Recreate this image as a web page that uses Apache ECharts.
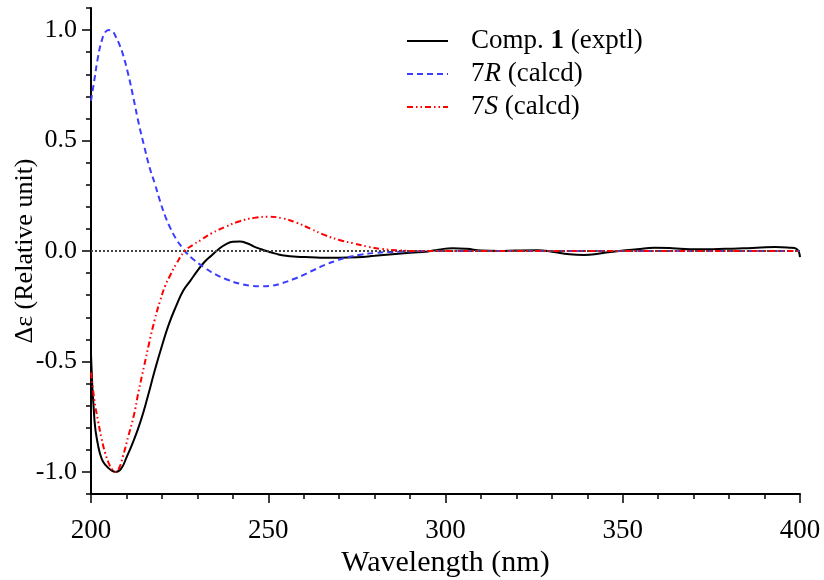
<!DOCTYPE html>
<html>
<head>
<meta charset="utf-8">
<script src="https://cdn.jsdelivr.net/npm/echarts@6/dist/echarts.min.js"></script>
<style>
html,body{margin:0;padding:0;background:#fff;}
#c{width:824px;height:580px;}
</style>
</head>
<body>
<div id="c"></div>
<script>
// Comp. 1 (exptl): [wavelength nm, Δε]
const exptl = [
  [200,-0.47],[201,-0.77],[202,-0.88],[203,-0.94],[204,-0.967],[205.5,-0.99],[207,-1.0],
  [208.5,-0.985],[210,-0.935],[212,-0.86],[214,-0.77],[216,-0.66],[218,-0.54],[220,-0.43],
  [222,-0.33],[224,-0.25],[226,-0.18],[228,-0.135],[230,-0.09],[232,-0.05],[234,-0.02],
  [236,0.008],[238,0.03],[240,0.042],[242,0.043],[244,0.035],[246,0.02],[248,0.008],
  [250,-0.003],[252,-0.012],[255,-0.022],[258,-0.026],[262,-0.028],[266,-0.03],[270,-0.03],
  [275,-0.028],[280,-0.022],[285,-0.015],[290,-0.008],[295,-0.002],[298,0.006],[302,0.013],
  [306,0.01],[310,0.002],[315,0.0],[320,0.002],[326,0.003],[330,-0.003],[335,-0.015],
  [339,-0.018],[344,-0.01],[349,0.0],[354,0.008],[359,0.015],[364,0.013],[369,0.008],
  [374,0.008],[379,0.01],[384,0.012],[389,0.016],[393,0.018],[397,0.015],[399,0.01],[400,-0.028]
];
// 7R (calcd)
const calc7R = [
  [200,0.68],[201,0.78],[202,0.88],[203,0.95],[204,0.99],[205,1.0],[206,0.995],[207,0.97],
  [208,0.935],[209,0.89],[210.5,0.80],[212,0.69],[213.5,0.575],[215,0.475],[216.5,0.38],
  [218,0.305],[219.5,0.225],[221,0.155],[222.5,0.10],[224,0.055],[225.5,0.02],[227,-0.01],
  [229,-0.04],[232,-0.075],[235,-0.105],[238.5,-0.13],[242,-0.148],[245,-0.157],[248,-0.16],
  [251,-0.157],[254,-0.145],[257,-0.128],[260,-0.108],[263,-0.085],[266,-0.063],[269,-0.045],
  [272,-0.03],[276,-0.017],[280,-0.009],[285,-0.004],[290,-0.002],[295,0],[320,0],[350,0],
  [380,0],[400,0]
];
// 7S (calcd)
const calc7S = [
  [200,-0.55],[201,-0.68],[202,-0.77],[203,-0.85],[204,-0.915],[205,-0.96],[206,-0.99],
  [207,-1.0],[208,-0.98],[209,-0.93],[210.5,-0.84],[212,-0.75],[213.5,-0.63],[215,-0.52],
  [216.5,-0.41],[218,-0.31],[219.5,-0.225],[221,-0.155],[222.5,-0.105],[224,-0.06],
  [226.5,0.0],[229,0.03],[231,0.05],[234,0.08],[238,0.11],[242,0.135],[246,0.15],[250,0.155],
  [254,0.148],[258,0.128],[262,0.10],[266,0.072],[270,0.05],[274,0.035],[278,0.02],
  [282,0.009],[287,0.003],[292,0.0],[320,0],[350,0],[380,0],[400,0]
];
const seriesNames = ['Comp. 1 (exptl)', '7R (calcd)', '7S (calcd)'];
const xTickLabels = [200, 250, 300, 350, 400];
const yTickLabels = [-1.0, -0.5, 0.0, 0.5, 1.0];

const FONT = 'Liberation Serif';
const chart = echarts.init(document.getElementById('c'));
const legendFmt = {
  'Comp. 1 (exptl)': '{sp|}{n|Comp. }{b|1}{n| (exptl)}',
  '7R (calcd)': '{sp|}{n|7}{i|R}{n| (calcd)}',
  '7S (calcd)': '{sp|}{n|7}{i|S}{n| (calcd)}'
};
chart.setOption({
  animation: false,
  backgroundColor: '#fff',
  grid: { left: 91, right: 24, top: 8, bottom: 86, containLabel: false, outerBoundsMode: 'none' },
  legend: {
    orient: 'vertical', left: 406, top: 26, itemWidth: 41, itemHeight: 14, itemGap: 3,
    padding: 0,
    data: seriesNames,
    itemStyle: { opacity: 0 },
    formatter: n => legendFmt[n],
    textStyle: {
      fontFamily: FONT, fontSize: 27, color: '#000', lineHeight: 30,
      rich: {
        sp: { width: 18, height: 30 },
        n: { fontFamily: FONT, fontSize: 27, color: '#000', height: 30 },
        b: { fontFamily: FONT, fontSize: 27, color: '#000', fontWeight: 'bold', height: 30 },
        i: { fontFamily: FONT, fontSize: 27, color: '#000', fontStyle: 'italic', height: 30 }
      }
    }
  },
  xAxis: {
    type: 'value', min: 200, max: 400, interval: 50,
    axisLine: { show: true, onZero: false, lineStyle: { color: '#000', width: 2 } },
    axisTick: { show: true, length: 9, lineStyle: { color: '#000', width: 1.5 } },
    minorTick: { show: true, splitNumber: 5, length: 5, lineStyle: { color: '#000', width: 1.5 } },
    splitLine: { show: false },
    axisLabel: { fontFamily: FONT, fontSize: 27, color: '#000', margin: 23,
      customValues: xTickLabels, formatter: v => String(v) },
    name: 'Wavelength (nm)', nameLocation: 'middle', nameGap: 54, nameMoveOverlap: false,
    nameTextStyle: { fontFamily: FONT, fontSize: 30, color: '#000' }
  },
  yAxis: [
    {
      type: 'value', min: -1.1, max: 1.1, interval: 0.1,
      axisLine: { show: true, onZero: false, lineStyle: { color: '#000', width: 2 } },
      axisTick: { show: true, length: 5, lineStyle: { color: '#000', width: 1.5 } },
      axisLabel: { show: false },
      splitLine: { show: false }
    },
    {
      type: 'value', min: -1.1, max: 1.1, position: 'left', offset: 0,
      axisLine: { show: false, onZero: false },
      axisTick: { show: true, length: 9, customValues: yTickLabels, lineStyle: { color: '#000', width: 1.5 } },
      axisLabel: { show: true, customValues: yTickLabels, fontFamily: FONT, fontSize: 26, color: '#000', margin: 14,
        formatter: v => v.toFixed(1) },
      splitLine: { show: false },
      name: 'Δε (Relative unit)', nameLocation: 'middle', nameGap: 53, nameMoveOverlap: false,
      nameTextStyle: { fontFamily: FONT, fontSize: 26, color: '#000' }
    }
  ],
  series: [
    {
      name: seriesNames[0], type: 'line', data: exptl, yAxisIndex: 0,
      showSymbol: false, symbol: 'none', smooth: 0.5,
      lineStyle: { color: '#000', width: 2 }, itemStyle: { color: '#000' }, z: 3,
      markLine: {
        silent: true, symbol: 'none', label: { show: false },
        lineStyle: { color: '#444', width: 2, type: 'dotted' },
        data: [{ yAxis: 0 }]
      }
    },
    {
      name: seriesNames[1], type: 'line', data: calc7R, yAxisIndex: 0,
      showSymbol: false, symbol: 'none', smooth: 0.5,
      lineStyle: { color: '#3d3dff', width: 2, type: [6, 4] }, itemStyle: { color: '#3d3dff' }, z: 4
    },
    {
      name: seriesNames[2], type: 'line', data: calc7S, yAxisIndex: 0,
      showSymbol: false, symbol: 'none', smooth: 0.5,
      lineStyle: { color: '#ff0000', width: 2, type: [6, 3, 1.5, 3, 1.5, 3] }, itemStyle: { color: '#ff0000' }, z: 5
    }
  ]
});
</script>
</body>
</html>
